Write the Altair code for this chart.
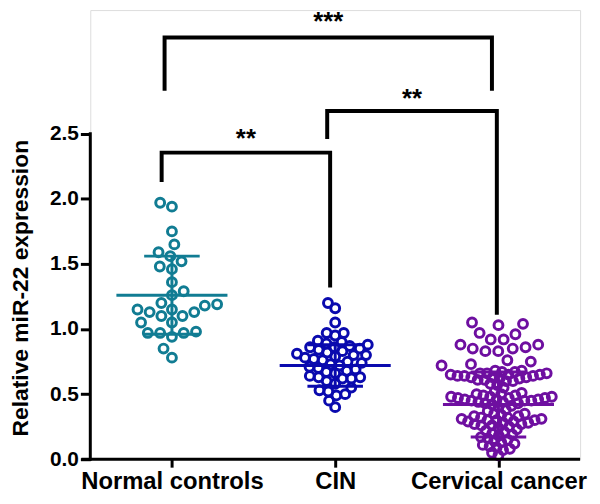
import math
import altair as alt
import pandas as pd

# ---------------- data ----------------
categories = ["Normal controls", "CIN", "Cervical cancer"]
colors = ["#117C93", "#0A0AAE", "#6E0FA0"]

normal_values = [1.97, 1.94, 1.75, 1.65, 1.59, 1.56, 1.52, 1.48, 1.46, 1.36,
                 1.29, 1.26, 1.20, 1.19, 1.18, 1.15, 1.15, 1.13, 1.13, 1.10,
                 1.10, 1.05, 1.05, 0.98, 0.97, 0.97, 0.97, 0.94, 0.85, 0.78]

cin_values = [1.20, 1.16, 1.05, 0.97, 0.97, 0.95, 0.91, 0.90, 0.89, 0.88,
              0.87, 0.86, 0.86, 0.85, 0.84, 0.83, 0.82, 0.81, 0.80, 0.80,
              0.79, 0.78, 0.77, 0.76, 0.75, 0.74, 0.73, 0.72, 0.71, 0.70,
              0.69, 0.68, 0.67, 0.66, 0.64, 0.63, 0.63, 0.62, 0.62, 0.60,
              0.58, 0.55, 0.53, 0.52, 0.50, 0.49, 0.45, 0.40]

cancer_values = [1.05, 1.04, 1.03, 0.97, 0.96, 0.92, 0.92, 0.88, 0.88, 0.86,
                 0.85, 0.85, 0.83, 0.83, 0.76, 0.75, 0.73, 0.72,
                 0.68, 0.68, 0.67, 0.67, 0.66, 0.66, 0.66, 0.65, 0.65, 0.65,
                 0.64, 0.64, 0.64, 0.63, 0.63, 0.63, 0.62, 0.62, 0.61, 0.61,
                 0.60, 0.60, 0.58, 0.57, 0.55,
                 0.52, 0.51, 0.50, 0.50, 0.49, 0.49, 0.48, 0.48, 0.48, 0.47,
                 0.47, 0.47, 0.46, 0.46, 0.46, 0.45, 0.45, 0.45, 0.44, 0.44,
                 0.43, 0.43, 0.42, 0.41, 0.40, 0.38, 0.37,
                 0.35, 0.35, 0.34, 0.33, 0.33, 0.32, 0.32, 0.31, 0.31, 0.30,
                 0.30, 0.30, 0.29, 0.29, 0.28, 0.28, 0.27, 0.27, 0.26, 0.26,
                 0.25, 0.24, 0.23, 0.22, 0.21, 0.20, 0.19, 0.18, 0.17, 0.16,
                 0.15, 0.14, 0.13, 0.12, 0.11, 0.10, 0.09, 0.08, 0.07, 0.05, 0.03]

means = [1.26, 0.72, 0.42]
sds = [0.30, 0.16, 0.25]

y_ticks = [0.0, 0.5, 1.0, 1.5, 2.0, 2.5]

# significance brackets: left x, right x, top y, left foot y, right foot y
br_left = [-0.045, -0.063, 0.951]
br_right = [1.96, 0.969, 1.99]
br_top = [3.24, 2.355, 2.675]
br_lfoot = [2.83, 2.13, 2.46]
br_rfoot = [2.83, 1.32, 1.11]
br_label = ["***", "**", "**"]
br_label_y = [3.30, 2.40, 2.705]

# ---------------- layout constants ----------------
W, H = 494, 453
Y_MAX = 3.45
PXX = W / 3.0
PXY = H / Y_MAX
FONT = "Liberation Sans"


def swarm(vals, sep_of):
    placed = []
    out = []
    for v in sorted(vals):
        sep = sep_of(v)
        y = v * PXY
        intervals = []
        cands = [0.0]
        for px, py in placed:
            dy = abs(py - y)
            if dy < sep:
                dx = math.sqrt(sep * sep - dy * dy)
                intervals.append((px - dx, px + dx))
                cands += [px - dx, px + dx]
        cands.sort(key=lambda c: (abs(c), c))
        x = 0.0
        for c in cands:
            if all(not (a + 1e-6 < c < b - 1e-6) for a, b in intervals):
                x = c
                break
        placed.append((x, y))
        out.append((v, x))
    return out


group_seps = [
    lambda v: 12.5,
    lambda v: 9.0,
    lambda v: 13.0 if v >= 0.7 else 7.0,
]

rows = []
for gi, vals in enumerate([normal_values, cin_values, cancer_values]):
    for v, xpx in swarm(vals, group_seps[gi]):
        rows.append({"group": categories[gi], "x": gi + xpx / PXX, "val": v})
pts = pd.DataFrame(rows)

stats = pd.DataFrame({
    "group": categories,
    "gx": [0, 1, 2],
    "mean": means,
    "lo": [m - s for m, s in zip(means, sds)],
    "hi": [m + s for m, s in zip(means, sds)],
})
stats["ml"] = stats["gx"] - 56 / PXX
stats["mr"] = stats["gx"] + 56 / PXX
stats["cl"] = stats["gx"] - 28 / PXX
stats["cr"] = stats["gx"] + 28 / PXX

br_rows = []
for i in range(len(br_left)):
    seq = [(br_left[i], br_lfoot[i]), (br_left[i], br_top[i]),
           (br_right[i], br_top[i]), (br_right[i], br_rfoot[i])]
    for k, (bx, by) in enumerate(seq):
        br_rows.append({"b": i, "k": k, "bx": bx, "by": by})
brackets = pd.DataFrame(br_rows)
labels = pd.DataFrame({
    "lx": [(l + r) / 2 for l, r in zip(br_left, br_right)],
    "ly": br_label_y,
    "t": br_label,
})

# ---------------- scales / axes ----------------
YS = alt.Scale(domain=[0, Y_MAX], nice=False, zero=False)
XS = alt.Scale(domain=[-0.5, 2.5], nice=False, zero=False)
label_expr = "[" + ",".join("'" + c + "'" for c in categories) + "][datum.value]"

yax = alt.Axis(values=y_ticks, format=".1f", domain=False, grid=False,
               tickSize=10, tickWidth=3, tickColor="black",
               labelFont=FONT, labelFontSize=21, labelFontWeight="bold",
               labelColor="black", labelPadding=2,
               titleFont=FONT, titleFontSize=23, titleFontWeight="bold",
               titleColor="black", titleAngle=270, titleAlign="center",
               titleBaseline="middle", titleX=-70, titleY=280)
xax = alt.Axis(values=[0, 1, 2], labelExpr=label_expr, domain=False, grid=False,
               tickSize=8, tickWidth=3, tickColor="black",
               labelFont=FONT, labelFontSize=24, labelFontWeight="bold",
               labelColor="black", labelPadding=3, labelFlush=False,
               labelOverlap=False, labelLimit=0)

Y_TITLE = "Relative miR-22 expression"


def Y(f):
    return alt.Y(f, type="quantitative", scale=YS, axis=yax, title=Y_TITLE)


def X(f):
    return alt.X(f, type="quantitative", scale=XS, axis=xax, title=None)


cscale = alt.Scale(domain=categories, range=colors)
C = alt.Color("group:N", scale=cscale, legend=None)

points = alt.Chart(pts).mark_point(shape="circle", filled=False, size=80,
                                   strokeWidth=3, opacity=1).encode(
    x=X("x"), y=Y("val"), color=C)

mean_line = alt.Chart(stats).mark_rule(strokeWidth=3).encode(
    x=X("ml"), x2="mr", y=Y("mean"), color=C)
cap_hi = alt.Chart(stats).mark_rule(strokeWidth=3).encode(
    x=X("cl"), x2="cr", y=Y("hi"), color=C)
cap_lo = alt.Chart(stats).mark_rule(strokeWidth=3).encode(
    x=X("cl"), x2="cr", y=Y("lo"), color=C)
vert = alt.Chart(stats).mark_rule(strokeWidth=3).encode(
    x=X("gx"), y=Y("lo"), y2="hi", color=C)

br = alt.Chart(brackets).mark_line(color="black", strokeWidth=4,
                                   strokeJoin="miter").encode(
    x=X("bx"), y=Y("by"), detail="b:N", order="k:Q")
txt = alt.Chart(labels).mark_text(font=FONT, fontSize=26, fontWeight="bold",
                                  color="black", baseline="alphabetic",
                                  align="center").encode(
    x=X("lx"), y=Y("ly"), text="t:N")

axis_df = pd.DataFrame({"y0": [0.0], "y1": [y_ticks[-1]]})
y_axis_line = alt.Chart(axis_df).mark_rule(color="black", strokeWidth=3,
                                           strokeCap="square").encode(
    x=alt.value(0), y=Y("y0"), y2="y1")
x_axis_line = alt.Chart(axis_df).mark_rule(color="black", strokeWidth=3).encode(
    x=alt.value(-9), x2=alt.value(W), y=alt.value(H))

chart = alt.layer(points, mean_line, cap_hi, cap_lo, vert, br, txt,
                  y_axis_line, x_axis_line).properties(
    width=W, height=H,
    autosize=alt.AutoSizeParams(type="none"),
    padding={"left": 83, "top": 0, "right": 12, "bottom": 35},
).configure_view(stroke=None).configure(background="white")

chart.save("out.html", embed_options={"renderer": "svg", "actions": False})
